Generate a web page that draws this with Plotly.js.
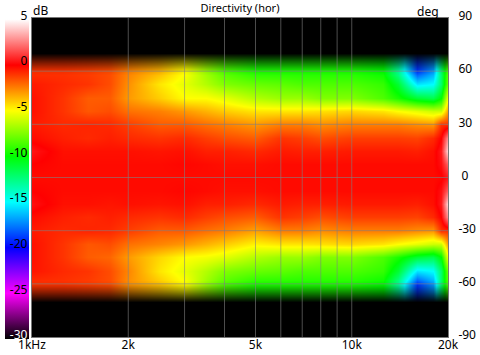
<!DOCTYPE html>
<html><head><meta charset="utf-8">
<script src="https://cdn.plot.ly/plotly-3.0.1.min.js"></script>
<style>html,body{margin:0;padding:0;background:#fff}#c{width:480px;height:355px}</style>
</head><body><div id="c"></div>
<script>
var freqs=[1000,1250,1500,1750,2000,2500,3000,3500,4000,5000,6000,7000,8000,10000,12500,14000,16000,18000,19000,20000];
var angles=[-90,-70,-60,-52.5,-45,-37.5,-30,-22.5,-15,-7.5,0,7.5,15,22.5,30,37.5,45,52.5,60,70,90];
var level=[
[-30,-30,-30,-30,-30,-30,-30,-30,-30,-30,-30,-30,-30,-30,-30,-30,-30,-30,-30,-30],
[-1,-1,-1.2,-1.5,-2.8,-4,-5,-7,-8.5,-9.5,-9.5,-9.5,-9.5,-9.5,-10,-13,-19,-17,-12,-8],
[-1,-1,-1.2,-1.5,-2.8,-3.8,-5,-7,-8.5,-9.5,-9.5,-9.5,-9.5,-9.5,-10,-13,-19,-17,-12,-8],
[-.4,-.8,-1,-1.5,-2.6,-4.5,-5.5,-6.5,-7.5,-8,-8.2,-8.5,-8.5,-8.5,-9,-11,-15.5,-15,-12,-7.5],
[-.3,-1,-1.8,-2,-3,-4.2,-5,-5.2,-5.6,-6.5,-7,-7,-7.5,-7.5,-8.5,-9.5,-11,-11.5,-10,-5],
[-.3,-1,-1.7,-1.5,-2.2,-2.6,-3,-3.5,-4,-4.8,-4.5,-4.5,-4.4,-4.2,-4.5,-5,-5.5,-6,-6,-3],
[-.5,-.8,-.7,-.8,-1.2,-1.8,-1.8,-2.2,-2.5,-3.2,-2.5,-2.5,-2.8,-2.5,-2.5,-2.5,-2.8,-3,-1,-1],
[-.2,-.6,-.8,-.6,-.8,-1,-.8,-1.2,-1.5,-1.8,-1,-1.2,-1.5,-1.2,-1.2,-1.2,-1.3,-.8,0,3],
[.3,-.3,-.3,-.4,-.3,-.4,-.3,-.6,-.6,-.8,-.5,-.6,-.6,-.5,-.5,-.5,-.6,-.3,.5,4.5],
[0,-.2,-.2,-.2,-.2,-.2,-.1,-.2,-.3,-.3,-.2,-.2,-.2,-.2,-.2,-.2,-.2,-.2,.3,2],
[-.2,-.2,-.2,-.2,-.2,-.2,-.2,-.2,-.2,-.2,-.2,-.2,-.2,-.2,-.2,-.2,-.2,-.2,-.1,.5],
[0,-.2,-.2,-.2,-.2,-.2,-.1,-.2,-.3,-.3,-.2,-.2,-.2,-.2,-.2,-.2,-.2,-.2,.3,2],
[.4,-.3,-.3,-.3,-.3,-.4,-.3,-.6,-.6,-.8,-.5,-.6,-.6,-.5,-.5,-.5,-.6,-.3,.5,4.5],
[-.2,-.6,-.8,-.6,-.8,-1,-.8,-1.2,-1.5,-1.8,-1,-1.2,-1.5,-1.2,-1.2,-1.2,-1.3,-.8,0,3],
[-.5,-.8,-.7,-.8,-1.2,-1.8,-1.8,-2.2,-2.5,-3,-2.5,-2.5,-2.8,-2.5,-2.5,-2.5,-2.8,-3,-1,-1],
[-.3,-1,-1.7,-1.5,-2.2,-2.5,-3,-3.5,-4,-4.5,-4.5,-4.5,-4.4,-4.2,-4.5,-5,-5.5,-6,-6,-3],
[-.3,-1,-1.8,-1.8,-3,-4,-5,-5,-5.5,-6.5,-7,-7,-7.5,-7.5,-8.5,-9.5,-11,-11.5,-10,-5],
[-.5,-.8,-1,-1.5,-2.8,-4.5,-5.5,-6.5,-7.5,-8,-8.2,-8.5,-8.5,-8.5,-9,-11,-15.5,-15,-12,-7.5],
[-1,-1,-1.2,-1.5,-2.5,-3.5,-5,-7,-8.5,-9.5,-9.5,-9.5,-9.5,-9.5,-10,-13,-19,-17,-12,-8],
[-1,-1,-1.2,-1.5,-2.5,-3.5,-5,-7,-8.5,-9.5,-9.5,-9.5,-9.5,-9.5,-10,-13,-19,-17,-12,-8],
[-30,-30,-30,-30,-30,-30,-30,-30,-30,-30,-30,-30,-30,-30,-30,-30,-30,-30,-30,-30]
];
var fadeFreqs=[1000,20000];
var fadeAngles=[-90,-70,-60,-58,58,60,70,90];
var fadeValues=[1,1,.05,0,0,.05,1,1];
var gridFreqs=[2000,3000,4000,5000,6000,7000,8000,9000,10000];
var gridAngles=[-60,-30,0,30,60];
var xTickVals=[1000,2000,5000,10000,20000];
var xTickText=['1kHz','2k','5k','10k','20k'];
var yTickVals=[-90,-60,-30,0,30,60,90];
var yTickText=['-90','-60','-30','\u00a00','30','60','90'];
var dbLabels=[5,0,-5,-10,-15,-20,-25,-30];
var dbLabelText=['5','0','-5','-10','-15','-20','-25','<span style="color:#fff">-30</span>'];
var dbLabelLift=0.55;
var dbHeadroom=1.25;
var zBottom=-30-dbLabelLift;
var zTop=5+dbHeadroom;
var stopDb=[-30,-25,-20,-15,-10,-5,0,5];
var stopColors=['#000000','#ff00ff','#0000ff','#00ffff','#00ff00','#ffff00','#ff0000','#ffffff'];
var clearWhite='rgba(255,255,255,0)';
var zSpan=zTop-zBottom;
var colorStops=[[0,clearWhite],[(dbLabelLift-0.001)/zSpan,clearWhite]];
stopDb.forEach(function(d,i){colorStops.push([(d-zBottom)/zSpan,stopColors[i]]);});
colorStops.push([(5.001-zBottom)/zSpan,clearWhite]);
colorStops.push([1,clearWhite]);

var F='"Noto Sans",sans-serif';
var gridLine={color:'rgba(128,128,128,0.6)',width:1};
var shapes=[];
gridFreqs.forEach(function(f){shapes.push({type:'line',layer:'above',xref:'x',yref:'paper',x0:f,x1:f,y0:0,y1:1,line:gridLine});});
gridAngles.forEach(function(a){shapes.push({type:'line',layer:'above',xref:'paper',yref:'y',x0:0,x1:1,y0:a,y1:a,line:gridLine});});

var pxPerDb=320/35;
var barPx=zSpan*pxPerDb;
var barTopPx=19-dbHeadroom*pxPerDb;
var traces=[
{type:'heatmap',x:freqs,y:angles,z:level,zmin:zBottom,zmax:zTop,zsmooth:'best',colorscale:colorStops,hoverinfo:'skip',
 showscale:true,
 colorbar:{x:-27/416,xanchor:'left',xpad:0,thickness:24,thicknessmode:'pixels',lenmode:'pixels',len:barPx,y:1+(18-barTopPx)/319,yanchor:'top',ypad:0,
  outlinewidth:0,borderwidth:0,tickmode:'array',tickvals:dbLabels.map(function(v){return v-dbLabelLift;}),ticktext:dbLabelText,ticklen:0,
  ticklabelposition:'inside top',ticklabeloverflow:'allow',tickfont:{family:F,size:12,color:'#000'}}},
{type:'heatmap',x:fadeFreqs,y:fadeAngles,z:fadeValues.map(function(v){return [v,v];}),zmin:0,zmax:1,zsmooth:'best',showscale:false,hoverinfo:'skip',
 colorscale:[[0,'rgba(0,0,0,0)'],[1,'rgba(0,0,0,1)']]}
];
var layout={width:480,height:355,margin:{l:32,r:32,t:18,b:18,pad:0,autoexpand:false},paper_bgcolor:'#fff',plot_bgcolor:'#000',showlegend:false,
 title:{text:'Directivity (hor)',font:{family:F,size:11,color:'#000'},x:0.5,xref:'paper',xanchor:'center',y:0.977,yanchor:'middle'},
 xaxis:{type:'log',range:[3,Math.log10(20000)],tickmode:'array',tickvals:xTickVals,ticktext:xTickText,showgrid:false,zeroline:false,ticks:'',ticklen:0,ticklabelstandoff:-3,
  tickfont:{family:F,size:12,color:'#000'},showline:true,mirror:true,linecolor:'#777',linewidth:1,layer:'above traces'},
 yaxis:{side:'right',range:[-90,90],tickmode:'array',tickvals:yTickVals,ticktext:yTickText,showgrid:false,zeroline:false,ticks:'',ticklen:0,ticklabelstandoff:7,ticklabelshift:-2,
  tickfont:{family:F,size:12,color:'#000'},showline:true,mirror:true,linecolor:'#777',linewidth:1,layer:'above traces'},
 shapes:shapes,
 annotations:[
 {text:'dB',xref:'paper',yref:'paper',x:(40-32)/416,y:1+(18-10)/319,showarrow:false,font:{family:F,size:12,color:'#000'},xanchor:'center',yanchor:'middle'},
 {text:'deg',xref:'paper',yref:'paper',x:(428-32)/416,y:1+(18-11)/319,showarrow:false,font:{family:F,size:12,color:'#000'},xanchor:'center',yanchor:'middle'}]
};
Plotly.newPlot('c',traces,layout,{staticPlot:true,displayModeBar:false});
</script></body></html>
